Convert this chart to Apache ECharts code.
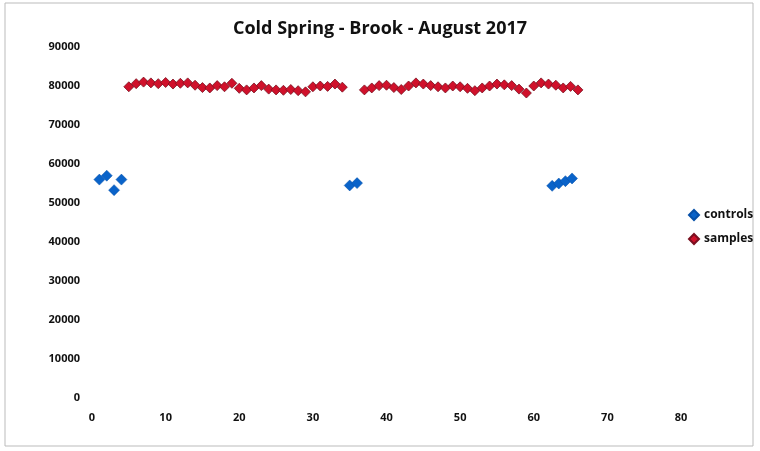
<!DOCTYPE html>
<html><head><meta charset="utf-8">
<script src="https://cdn.jsdelivr.net/npm/echarts@6/dist/echarts.min.js"></script>
<style>html,body{margin:0;padding:0;background:#fff}#c{width:760px;height:451px}</style>
</head><body><div id="c"></div>
<script>
var titleText = 'Cold Spring - Brook - August 2017';
var controlsX = [1, 2, 3, 4, 35, 36, 62.5, 63.4, 64.3, 65.2];
var controlsY = [56000, 57000, 53300, 56000, 54500, 55100, 54400, 55000, 55600, 56300];
var samplesX = [5,6,7,8,9,10,11,12,13,14,15,16,17,18,19,20,21,22,23,24,25,26,27,28,29,30,31,32,33,34,
                37,38,39,40,41,42,43,44,45,46,47,48,49,50,51,52,53,54,55,56,57,58,59,60,61,62,63,64,65,66];
var samplesY = [79800,80600,81000,80800,80600,80900,80500,80700,80800,80200,79600,79500,80100,79800,80700,79400,79000,79500,80100,79200,79000,78900,79100,78800,78500,79800,80000,79900,80500,79700,
                79000,79500,80100,80200,79600,79100,80000,80800,80500,80100,79800,79500,80000,79800,79400,78800,79500,80000,80500,80300,80100,79200,78200,80000,80800,80500,80200,79500,79900,79000];
var yTicks = [0, 90000, 10000];
var xTicks = [0, 80, 10];

function pairs(xs, ys){ return xs.map(function(x,i){ return [x, ys[i]]; }); }

var chart = echarts.init(document.getElementById('c'));
chart.setOption({
  animation: false,
  backgroundColor: '#fff',
  title: { text: titleText, left: 'center', top: 15,
    textStyle: { fontFamily: 'Open Sans', fontWeight: 'bold', fontSize: 18, color: '#111' } },
  graphic: [{ type: 'rect', shape: { x: 5, y: 3, width: 748, height: 443 },
    style: { fill: 'none', stroke: '#bbb', lineWidth: 1 } }],
  legend: {
    orient: 'vertical', left: 683, top: 204, itemGap: 12, itemWidth: 10, itemHeight: 10,
    textStyle: { fontFamily: 'Open Sans', fontWeight: 'bold', fontSize: 12, color: '#111' },
    data: [{ name: 'controls', icon: 'diamond' }, { name: 'samples', icon: 'diamond' }]
  },
  grid: { left: 92, right: 79, top: 47, bottom: 53, containLabel: false },
  xAxis: { type: 'value', min: xTicks[0], max: xTicks[1], interval: xTicks[2],
    axisLine: { show: false }, axisTick: { show: false }, splitLine: { show: false },
    axisLabel: { margin: 14, fontFamily: 'Open Sans', fontWeight: 'bold', fontSize: 11, color: '#111' } },
  yAxis: { type: 'value', min: yTicks[0], max: yTicks[1], interval: yTicks[2],
    axisLine: { show: false }, axisTick: { show: false }, splitLine: { show: false },
    axisLabel: { margin: 12, fontFamily: 'Open Sans', fontWeight: 'bold', fontSize: 11, color: '#111',
      formatter: function(v){ return String(v); } } },
  series: [
    { name: 'controls', type: 'scatter', symbol: 'diamond', symbolSize: 11,
      itemStyle: { color: '#0a63c9', borderColor: '#0650a8', borderWidth: 0.5, opacity: 1 },
      data: pairs(controlsX, controlsY) },
    { name: 'samples', type: 'scatter', symbol: 'diamond', symbolSize: 10,
      itemStyle: { color: '#d0112b', borderColor: '#7a1020', borderWidth: 0.8, opacity: 1 },
      data: pairs(samplesX, samplesY) }
  ]
});
</script></body></html>
